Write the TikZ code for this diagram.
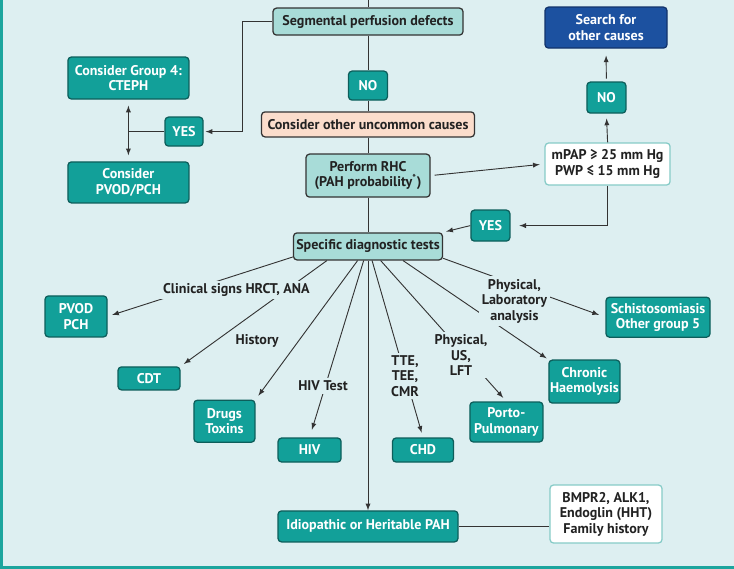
\documentclass[tikz,border=0pt]{standalone}
\usepackage{fontspec}
\setmainfont{PT Sans}
\usepackage{xcolor}
\usetikzlibrary{arrows}

\definecolor{bgcol}{HTML}{DDEFF1}
\definecolor{tealbox}{HTML}{12A099}
\definecolor{tealdark}{HTML}{0D5E5B}
\definecolor{lightbox}{HTML}{A8DCD8}
\definecolor{peachbox}{HTML}{FBDDCC}
\definecolor{bluebox}{HTML}{1C51A0}
\definecolor{bluedark}{HTML}{12336B}
\definecolor{wborder}{HTML}{86CBC7}
\definecolor{framecol}{HTML}{1CA59E}
\definecolor{edgecol}{HTML}{333333}
\definecolor{textcol}{HTML}{222222}

\newcommand{\boxfont}{\fontsize{10}{11}\selectfont\bfseries}

\begin{document}
\begin{tikzpicture}[]
	%\draw[help lines] (0,0) grid (18,-14);
	
	\tikzstyle{tnode} = [rectangle,rounded corners=2.5pt,draw=tealdark,line width=0.9pt,fill=tealbox,text=white,align=center,inner sep=0pt,font=\boxfont]
	\tikzstyle{lnode} = [tnode,draw=edgecol,fill=lightbox,text=textcol]
	\tikzstyle{pnode} = [tnode,draw=edgecol,fill=peachbox,text=textcol]
	\tikzstyle{bnode} = [tnode,draw=bluedark,fill=bluebox]
	\tikzstyle{wnode} = [tnode,draw=wborder,fill=white,text=textcol]
	\tikzstyle{tlabel} = [fill=bgcol,text=textcol,align=center,inner sep=2pt,font=\boxfont]
	\tikzstyle{pedge} = [-,draw=edgecol,line width=0.65pt]
	\tikzstyle{vedge} = [->,>=latex,draw=edgecol,line width=0.65pt]
	\tikzstyle{dedge} = [<->,>=latex,draw=edgecol,line width=0.65pt,shorten <=0.15cm,shorten >=0.15cm]
	
	\path[use as bounding box,fill=bgcol] (0,0) rectangle (18.35,-14.225);
	\draw[framecol,line width=0.07cm] (0.035,0) -- (0.035,-14.19) -- (18.35,-14.19);
	
	% main column
	\node[lnode,minimum width=4.75cm,minimum height=0.675cm] (seg) at (9.2,-0.54) {Segmental perfusion defects};
	\node[tnode,minimum width=0.975cm,minimum height=0.725cm] (no1) at (9.2,-2.14) {NO};
	\node[pnode,minimum width=5.325cm,minimum height=0.625cm] (other) at (9.2,-3.11) {Consider other uncommon causes};
	\node[lnode,minimum width=3.1cm,minimum height=1.075cm] (rhc) at (9.2,-4.39) {Perform RHC\\(PAH probability\textsuperscript{*})};
	\node[lnode,minimum width=3.725cm,minimum height=0.675cm] (spec) at (9.2,-6.16) {Specific diagnostic tests};
	\node[tnode,minimum width=4.5cm,minimum height=0.775cm] (idio) at (9.2,-13.16) {Idiopathic or Heritable PAH};
	\node[wnode,minimum width=2.8cm,minimum height=1.45cm] (bmpr) at (15.15,-12.85) {BMPR2, ALK1,\\Endoglin (HHT)\\Family history};
	
	% left branch
	\node[tnode,minimum width=0.95cm,minimum height=0.725cm] (yes1) at (4.6,-3.29) {YES};
	\node[tnode,minimum width=3.025cm,minimum height=1.05cm] (ctep) at (3.21,-1.95) {Consider Group 4:\\CTEPH};
	\node[tnode,minimum width=3.025cm,minimum height=1.025cm] (pvodc) at (3.21,-4.56) {Consider\\PVOD/PCH};
	
	% right branch
	\node[bnode,minimum width=3.05cm,minimum height=1.025cm] (search) at (15.15,-0.69) {Search for\\other causes};
	\node[tnode,minimum width=0.975cm,minimum height=0.775cm] (no2) at (15.16,-2.44) {NO};
	\node[wnode,minimum width=3.125cm,minimum height=1.05cm] (mpap) at (15.19,-4.10) {mPAP ≥ 25 mm Hg\\PWP ≤ 15 mm Hg};
	\node[tnode,minimum width=0.975cm,minimum height=0.775cm] (yes2) at (12.26,-5.64) {YES};
	
	% outcomes
	\node[tnode,minimum width=1.55cm,minimum height=1.025cm] (pvod) at (1.9,-7.91) {PVOD\\PCH};
	\node[tnode,minimum width=1.55cm,minimum height=0.575cm] (cdt) at (3.725,-9.46) {CDT};
	\node[tnode,minimum width=1.525cm,minimum height=1.05cm] (drugs) at (5.61,-10.53) {Drugs\\Toxins};
	\node[tnode,minimum width=1.575cm,minimum height=0.6cm] (hiv) at (7.74,-11.25) {HIV};
	\node[tnode,minimum width=1.525cm,minimum height=0.6cm] (chd) at (10.575,-11.25) {CHD};
	\node[tnode,minimum width=1.825cm,minimum height=1.0cm] (porto) at (12.66,-10.55) {Porto-\\Pulmonary};
	\node[tnode,minimum width=1.775cm,minimum height=1.075cm] (chronic) at (14.61,-9.54) {Chronic\\Haemolysis};
	\node[tnode,minimum width=2.6cm,minimum height=1.0cm] (schisto) at (16.45,-7.93) {Schistosomiasis\\Other group 5};
	
	\coordinate (segtop) at (9.2,0);
	\coordinate (segbend) at (6.05,-0.54);
	
	\draw (segtop) edge [pedge] (seg);
	\draw (seg) edge [pedge] (no1);
	\draw (no1) edge [pedge] (other);
	\draw (other) edge [pedge] (rhc);
	\draw (rhc) edge [pedge] (spec);
	\draw[vedge,shorten >=0.05cm] (seg.west) -- (segbend) |- (yes1.east);
	\draw (yes1.west) edge [pedge] (yes1.west -| ctep.south);
	\draw[dedge] (ctep.south) -- (pvodc.north);
	\draw (rhc.east) edge [vedge,shorten <=0.1cm,shorten >=0.12cm] (mpap.west);
	\draw (mpap.north) edge [vedge,shorten >=0.12cm] (no2.south);
	\draw (no2.north) edge [vedge,shorten <=0.07cm,shorten >=0.17cm] (search.south);
	\draw[vedge,shorten >=0.22cm] (mpap.south) |- (yes2.east);
	\draw (yes2.west) edge [vedge,shorten >=0.08cm] (spec.north east);
	\draw (spec.south) edge [vedge] (idio.north);
	\draw (idio.east) edge [pedge] (idio.east -| bmpr.west);
	
	% tests
	\draw (spec.188) edge [vedge,shorten >=0.12cm] (pvod.east);
	\draw (spec.199) edge [vedge,shorten >=0.1cm] (cdt.north east);
	\draw (spec) edge [vedge,shorten >=0.12cm] (drugs.north east);
	\draw (spec) edge [vedge,shorten >=0.2cm] (hiv.north);
	\draw (spec) edge [vedge,shorten >=0.12cm] (chd.north);
	\draw (spec) edge [vedge,shorten >=0.12cm] (porto.north);
	\draw (spec.-22) edge [vedge,shorten >=0.05cm] (chronic.north west);
	\draw (spec.-9) edge [vedge,shorten >=0.17cm] (schisto.west);
	
	\node[tlabel] (lclin) at (5.91,-7.25) {Clinical signs HRCT, ANA};
	\node[tlabel] (lhist) at (6.43,-8.53) {History};
	\node[tlabel] (lhiv) at (8.075,-9.65) {HIV Test};
	\node[tlabel] (ltte) at (10.125,-9.4) {TTE,\\TEE,\\CMR};
	\node[tlabel] (lphys) at (11.525,-8.875) {Physical,\\US,\\LFT};
	\node[tlabel] (llab) at (12.86,-7.525) {Physical,\\Laboratory\\analysis};

\end{tikzpicture}
\end{document}
